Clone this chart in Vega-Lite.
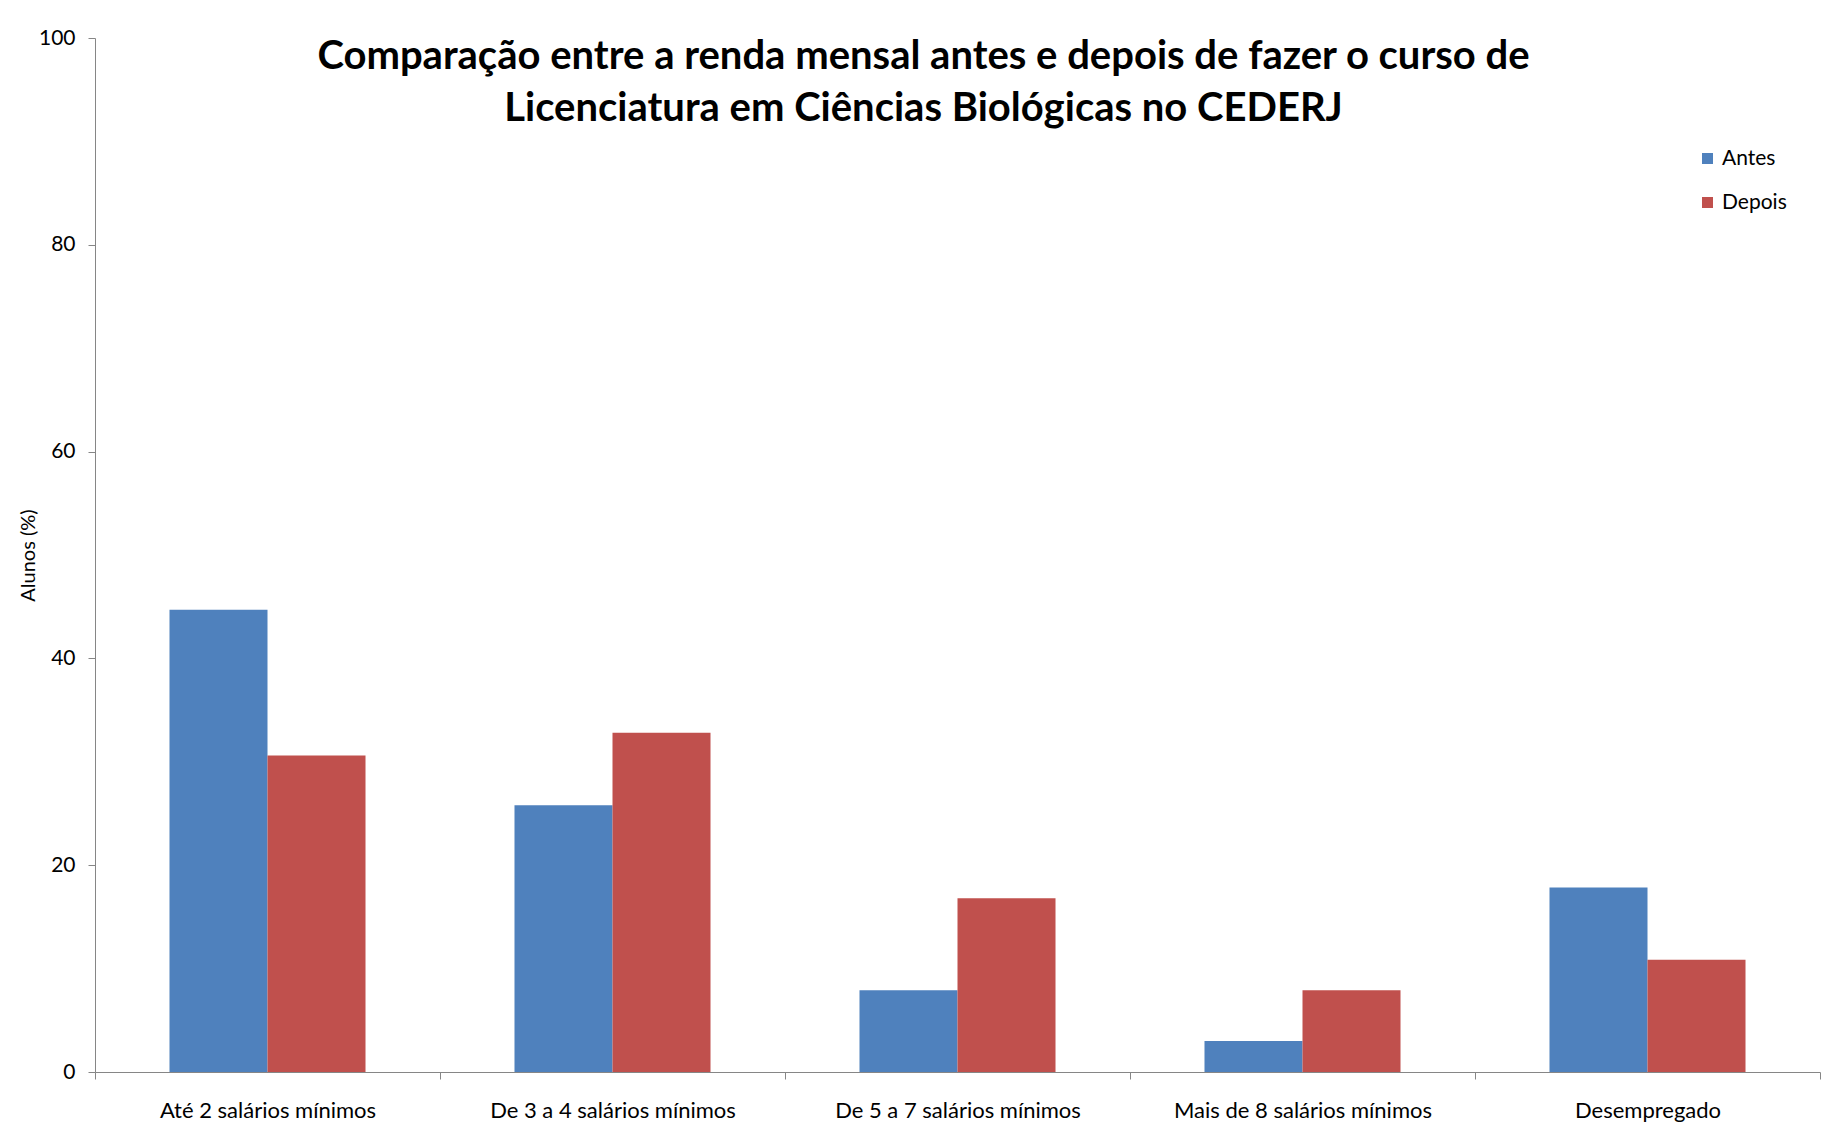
{
  "$schema": "https://vega.github.io/schema/vega-lite/v6.json",
  "width": 1725,
  "height": 1034,
  "autosize": {"type": "none"},
  "padding": {"left": 95, "top": 38, "right": 9, "bottom": 75},
  "background": "white",
  "title": {
    "text": ["Comparação entre a renda mensal antes e depois de fazer o curso de", "Licenciatura em Ciências Biológicas no CEDERJ"],
    "font": "Lato",
    "fontSize": 40,
    "fontWeight": "bold",
    "color": "#000000",
    "anchor": "middle",
    "frame": "group",
    "lineHeight": 52,
    "offset": 0,
    "dy": 102,
    "dx": -34
  },
  "data": {
    "values": [
      {"categoria": "Até 2 salários mínimos", "serie": "Antes", "valor": 44.7},
      {"categoria": "Até 2 salários mínimos", "serie": "Depois", "valor": 30.6},
      {"categoria": "De 3 a 4 salários mínimos", "serie": "Antes", "valor": 25.8},
      {"categoria": "De 3 a 4 salários mínimos", "serie": "Depois", "valor": 32.8},
      {"categoria": "De 5 a 7 salários mínimos", "serie": "Antes", "valor": 7.9},
      {"categoria": "De 5 a 7 salários mínimos", "serie": "Depois", "valor": 16.8},
      {"categoria": "Mais de 8 salários  mínimos", "serie": "Antes", "valor": 3.0},
      {"categoria": "Mais de 8 salários  mínimos", "serie": "Depois", "valor": 7.9},
      {"categoria": "Desempregado", "serie": "Antes", "valor": 17.85},
      {"categoria": "Desempregado", "serie": "Depois", "valor": 10.85}
    ]
  },
  "mark": {"type": "bar"},
  "encoding": {
    "x": {
      "field": "categoria",
      "type": "nominal",
      "sort": ["Até 2 salários mínimos", "De 3 a 4 salários mínimos", "De 5 a 7 salários mínimos", "Mais de 8 salários  mínimos", "Desempregado"],
      "scale": {"paddingInner": 0, "paddingOuter": 0},
      "axis": {
        "title": null,
        "labelAngle": 0,
        "tickBand": "extent",
        "tickSize": 7,
        "tickColor": "#868686",
        "domainColor": "#868686",
        "labelFont": "Lato",
        "labelFontSize": 22,
        "labelColor": "#000000",
        "labelLimit": 400,
        "labelPadding": 21
      }
    },
    "xOffset": {
      "field": "serie",
      "type": "nominal",
      "sort": ["Antes", "Depois"],
      "scale": {"paddingInner": 0, "paddingOuter": 0.76}
    },
    "y": {
      "field": "valor",
      "type": "quantitative",
      "scale": {"domain": [0, 100], "nice": false},
      "axis": {
        "title": "Alunos (%)",
        "values": [0, 20, 40, 60, 80, 100],
        "grid": false,
        "tickSize": 7,
        "tickColor": "#868686",
        "domainColor": "#868686",
        "labelFont": "Lato",
        "labelFontSize": 21,
        "labelColor": "#000000",
        "labelPadding": 13,
        "titleFont": "Lato",
        "titleFontSize": 20,
        "titleFontWeight": "normal",
        "titleColor": "#000000",
        "titlePadding": 0
      }
    },
    "color": {
      "field": "serie",
      "type": "nominal",
      "sort": ["Antes", "Depois"],
      "scale": {"domain": ["Antes", "Depois"], "range": ["#4F81BD", "#C0504D"]},
      "legend": {
        "title": null,
        "orient": "none",
        "legendX": 1602,
        "legendY": 110,
        "symbolType": "square",
        "symbolSize": 121,
        "symbolStrokeWidth": 0,
        "symbolOpacity": 1,
        "labelFont": "Lato",
        "labelFontSize": 21,
        "labelColor": "#000000",
        "labelOffset": 4,
        "rowPadding": 22,
        "padding": 0
      }
    }
  },
  "config": {
    "view": {"stroke": null}
  }
}
